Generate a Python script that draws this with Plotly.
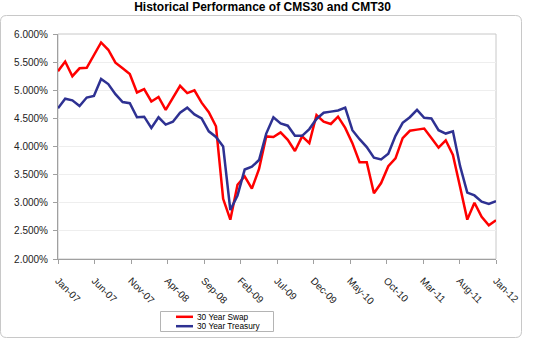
import numpy as np
import pandas as pd
import plotly.graph_objects as go

# ---------------- data ----------------
months = list(pd.date_range("2006-12-01", periods=62, freq="MS").strftime("%b-%y"))

swap_30y = [5.34, 5.51, 5.25, 5.39, 5.40, 5.63, 5.85, 5.72, 5.49, 5.39,
            5.29, 4.96, 5.02, 4.80, 4.88, 4.65, 4.86, 5.08, 4.95, 5.00,
            4.78, 4.61, 4.36, 3.07, 2.70, 3.32, 3.47, 3.25, 3.60, 4.18,
            4.17, 4.25, 4.12, 3.92, 4.18, 4.06, 4.56, 4.44, 4.40, 4.53,
            4.33, 4.06, 3.72, 3.72, 3.17, 3.35, 3.65, 3.79, 4.15, 4.28,
            4.30, 4.32, 4.15, 3.98, 4.11, 3.85, 3.28, 2.70, 3.00, 2.75,
            2.60, 2.69]

treasury_30y = [4.68, 4.85, 4.82, 4.72, 4.87, 4.90, 5.20, 5.11, 4.93, 4.79,
                4.77, 4.52, 4.53, 4.33, 4.52, 4.39, 4.44, 4.60, 4.69, 4.57,
                4.50, 4.27, 4.17, 4.00, 2.87, 3.13, 3.59, 3.64, 3.76, 4.23,
                4.52, 4.41, 4.37, 4.19, 4.19, 4.31, 4.49, 4.60, 4.62, 4.64,
                4.69, 4.29, 4.13, 3.99, 3.80, 3.77, 3.87, 4.19, 4.42, 4.52,
                4.65, 4.51, 4.50, 4.29, 4.23, 4.27, 3.65, 3.18, 3.13, 3.02,
                2.98, 3.03]

tick_labels = ["Jan-07", "Jun-07", "Nov-07", "Apr-08", "Sep-08", "Feb-09",
               "Jul-09", "Dec-09", "May-10", "Oct-10", "Mar-11", "Aug-11",
               "Jan-12"]

series_names = ["30 Year Swap", "30 Year Treasury"]
series_colors = ["#ff0000", "#2e3192"]

# ---------------- figure ----------------
W, H = 534, 339
L, R, T, B = 58, 38, 34, 80
PW, PH = W - L - R, H - T - B

def px(x):
    return (x - L) / PW

def py(y):
    return (H - B - y) / PH

x = list(range(len(months)))
tickvals = list(np.linspace(0, len(months) - 1, len(tick_labels)))

FONT = "Arial, Liberation Sans, sans-serif"

fig = go.Figure()
for name, vals, col in zip(series_names, [swap_30y, treasury_30y], series_colors):
    fig.add_trace(go.Scatter(
        x=x, y=vals, mode="lines", name=name,
        line=dict(color=col, width=2.5),
        text=months, hovertemplate="%{text}: %{y:.3f}%<extra>" + name + "</extra>",
        showlegend=False,
    ))

shapes = []
# plot-area border (top/right light gray)
shapes.append(dict(type="rect", xref="paper", yref="paper", x0=0, y0=0, x1=1, y1=1,
                   line=dict(color="#c8c8c8", width=1), layer="below"))
# outer chart frame with rounded corners
r = 6
x0, y0, x1, y1 = 0.5, 15.5, 521.5, 337.5
def P(a, b):
    return f"{px(a):.5f},{py(b):.5f}"
path = (f"M{P(x0 + r, y0)} L{P(x1 - r, y0)} Q{P(x1, y0)} {P(x1, y0 + r)} "
        f"L{P(x1, y1 - r)} Q{P(x1, y1)} {P(x1 - r, y1)} "
        f"L{P(x0 + r, y1)} Q{P(x0, y1)} {P(x0, y1 - r)} "
        f"L{P(x0, y0 + r)} Q{P(x0, y0)} {P(x0 + r, y0)} Z")
shapes.append(dict(type="path", xref="paper", yref="paper", path=path,
                   line=dict(color="#c8c8c8", width=1)))

# legend box
shapes.append(dict(type="rect", xref="paper", yref="paper",
                   x0=px(160.5), x1=px(273.5), y0=py(311.5), y1=py(331.5),
                   line=dict(color="#b4b4b4", width=1), fillcolor="white"))
annotations = []
leg_y = [316.8, 326.2]
for name, col, ly in zip(series_names, series_colors, leg_y):
    shapes.append(dict(type="line", xref="paper", yref="paper",
                       x0=px(176), x1=px(193), y0=py(ly), y1=py(ly),
                       line=dict(color=col, width=2.5)))
    annotations.append(dict(xref="paper", yref="paper", x=px(194.5), y=py(ly),
                            text=name, showarrow=False, xanchor="left", yanchor="middle",
                            font=dict(family=FONT, size=8.3, color="#000000")))

fig.update_layout(
    width=W, height=H,
    margin=dict(l=L, r=R, t=T, b=B, pad=0),
    paper_bgcolor="white", plot_bgcolor="white",
    title=dict(text="<b>Historical Performance of CMS30 and CMT30</b>",
               x=262.5 / W, xanchor="center", y=1 - 7 / H, yanchor="middle",
               font=dict(family=FONT, size=12, color="#000000")),
    showlegend=False,
    shapes=shapes,
    annotations=annotations,
    xaxis=dict(
        range=[0, len(months) - 1],
        tickmode="array", tickvals=tickvals, ticktext=tick_labels,
        tickangle=45, ticks="outside", ticklen=4, tickcolor="#a0a0a0",
        ticklabelstandoff=7,
        showgrid=False, zeroline=False,
        showline=True, linecolor="#a0a0a0", linewidth=1,
        tickfont=dict(family=FONT, size=10, color="#222222"),
    ),
    yaxis=dict(
        range=[2, 6], dtick=0.5, tick0=2,
        tickformat=".3f", ticksuffix="%",
        showgrid=True, gridcolor="#eeeeee", gridwidth=1,
        zeroline=False,
        showline=True, linecolor="#a0a0a0", linewidth=1,
        ticks="outside", ticklen=4, tickcolor="#a0a0a0",
        ticklabelstandoff=3,
        tickfont=dict(family=FONT, size=10, color="#222222"),
    ),
)

fig.write_html("out.html")
